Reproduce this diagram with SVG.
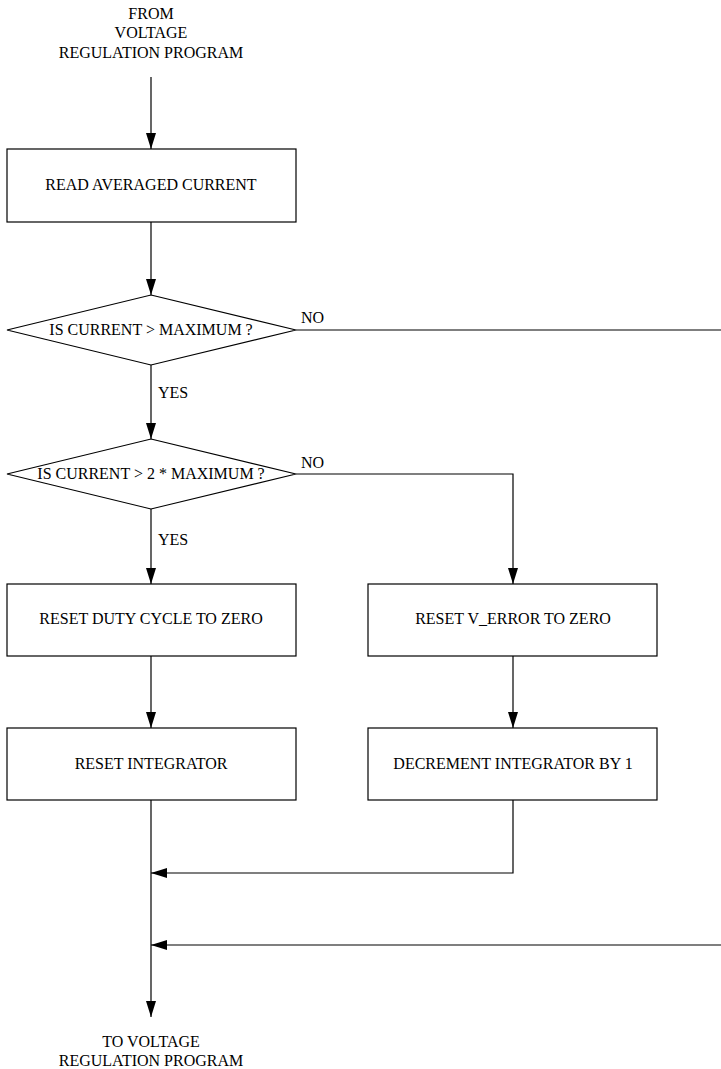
<svg xmlns="http://www.w3.org/2000/svg" width="721" height="1069" viewBox="0 0 721 1069">
<style>
  text { font-family: "Liberation Serif", "Times New Roman", serif; font-size: 16px; fill: #000; }
  .c { text-anchor: middle; }
  .shape { fill: #fff; stroke: #000; stroke-width: 1.2; }
  .conn { fill: none; stroke: #000; stroke-width: 1.2; }
</style>
<defs>
  <marker id="arr" markerUnits="userSpaceOnUse" markerWidth="16" markerHeight="10" refX="16" refY="5" orient="auto" viewBox="0 0 16 10">
    <path d="M0,0 L16,5 L0,10 z" fill="#000"/>
  </marker>
</defs>
<rect width="721" height="1069" fill="#fff"/>

<g id="start">
  <text class="c" x="151" y="19">FROM</text>
  <text class="c" x="151" y="38">VOLTAGE</text>
  <text class="c" x="151" y="58">REGULATION PROGRAM</text>
</g>

<g id="connectors">
  <path class="conn" d="M151,77 V149" marker-end="url(#arr)"/>
  <path class="conn" d="M151,222 V295" marker-end="url(#arr)"/>
  <path class="conn" d="M296,330 H721"/>
  <path class="conn" d="M151,365 V439" marker-end="url(#arr)"/>
  <path class="conn" d="M296,474 H513 V584" marker-end="url(#arr)"/>
  <path class="conn" d="M151,509 V584" marker-end="url(#arr)"/>
  <path class="conn" d="M151,656 V728" marker-end="url(#arr)"/>
  <path class="conn" d="M513,656 V728" marker-end="url(#arr)"/>
  <path class="conn" d="M513,800 V873 H151" marker-end="url(#arr)"/>
  <path class="conn" d="M721,945 H151" marker-end="url(#arr)"/>
  <path class="conn" d="M151,800 V1017" marker-end="url(#arr)"/>
  <text x="301" y="323">NO</text>
  <text x="158" y="398">YES</text>
  <text x="301" y="468">NO</text>
  <text x="158" y="545">YES</text>
</g>

<g id="read">
  <rect class="shape" x="7" y="149" width="289" height="73"/>
  <text class="c" x="151" y="190">READ AVERAGED CURRENT</text>
</g>

<g id="dec1">
  <polygon class="shape" points="151,295 296,330 151,365 7,330"/>
  <text class="c" x="151" y="335">IS CURRENT &gt; MAXIMUM ?</text>
</g>

<g id="dec2">
  <polygon class="shape" points="151,439 296,474 151,509 7,474"/>
  <text class="c" x="151" y="479">IS CURRENT &gt; 2 * MAXIMUM ?</text>
</g>

<g id="resetduty">
  <rect class="shape" x="7" y="584" width="289" height="72"/>
  <text class="c" x="151" y="624">RESET DUTY CYCLE TO ZERO</text>
</g>

<g id="resetverror">
  <rect class="shape" x="368" y="584" width="289" height="72"/>
  <text class="c" x="513" y="624">RESET V_ERROR TO ZERO</text>
</g>

<g id="resetint">
  <rect class="shape" x="7" y="728" width="289" height="72"/>
  <text class="c" x="151" y="769">RESET INTEGRATOR</text>
</g>

<g id="decint">
  <rect class="shape" x="368" y="728" width="289" height="72"/>
  <text class="c" x="513" y="769">DECREMENT INTEGRATOR BY 1</text>
</g>

<g id="end">
  <text class="c" x="151" y="1047">TO VOLTAGE</text>
  <text class="c" x="151" y="1066">REGULATION PROGRAM</text>
</g>
</svg>
